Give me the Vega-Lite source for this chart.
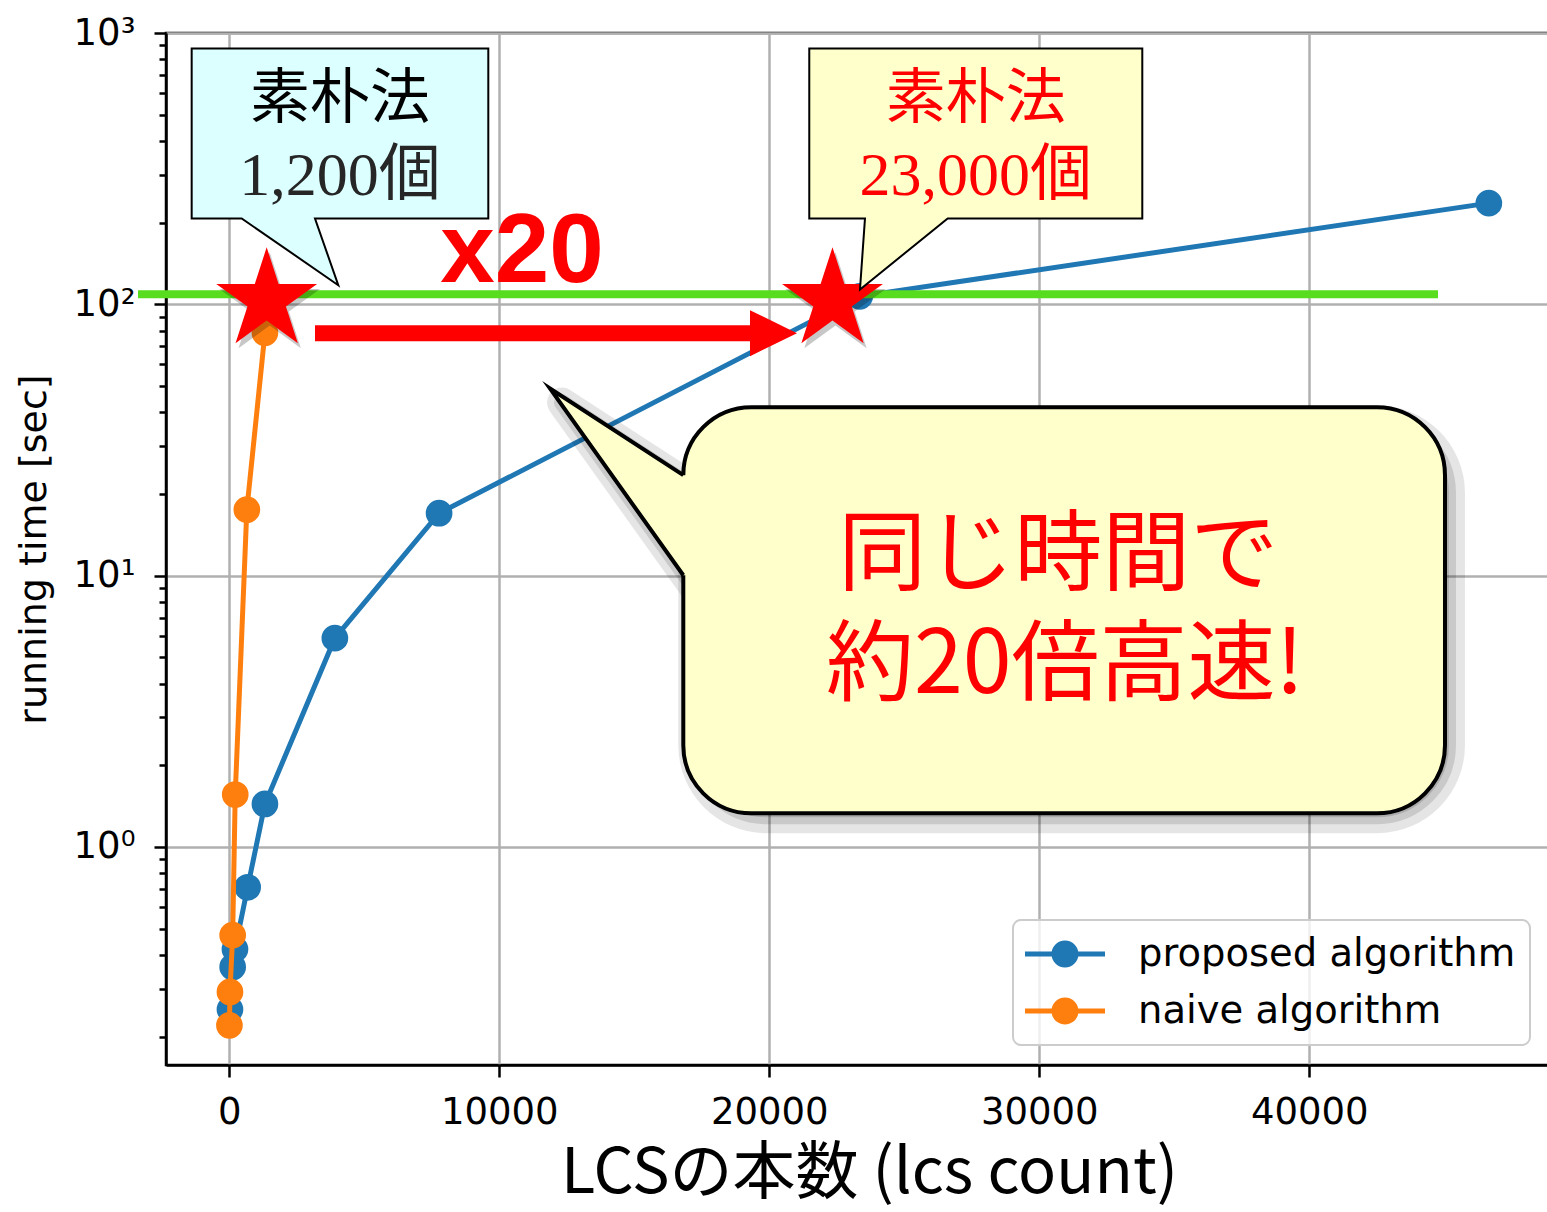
{
  "$schema": "https://vega.github.io/schema/vega-lite/v6.json",
  "width": 1406,
  "height": 1032,
  "autosize": {"type": "none"},
  "padding": {"left": 166, "top": 33, "right": 0, "bottom": 147},
  "background": "white",
  "config": {
    "view": {"stroke": "black", "strokeWidth": 2.5},
    "font": "DejaVu Sans",
    "axis": {
      "domainColor": "black", "domainWidth": 2.5,
      "tickColor": "black", "tickWidth": 2.5,
      "gridColor": "#b0b0b0", "gridWidth": 2.5,
      "labelColor": "black", "titleColor": "black",
      "labelFont": "DejaVu Sans", "labelFontSize": 37
    }
  },
  "datasets": {
    "proposed": [
      {"x": 25, "y": 0.252, "algo": "proposed algorithm"},
      {"x": 125, "y": 0.361, "algo": "proposed algorithm"},
      {"x": 210, "y": 0.42, "algo": "proposed algorithm"},
      {"x": 680, "y": 0.71, "algo": "proposed algorithm"},
      {"x": 1320, "y": 1.44, "algo": "proposed algorithm"},
      {"x": 3910, "y": 5.88, "algo": "proposed algorithm"},
      {"x": 7770, "y": 16.98, "algo": "proposed algorithm"},
      {"x": 23350, "y": 107, "algo": "proposed algorithm"},
      {"x": 46650, "y": 236, "algo": "proposed algorithm"}
    ],
    "naive": [
      {"x": 5, "y": 0.22, "algo": "naive algorithm"},
      {"x": 25, "y": 0.292, "algo": "naive algorithm"},
      {"x": 125, "y": 0.473, "algo": "naive algorithm"},
      {"x": 220, "y": 1.56, "algo": "naive algorithm"},
      {"x": 650, "y": 17.5, "algo": "naive algorithm"},
      {"x": 1320, "y": 78.5, "algo": "naive algorithm"}
    ],
    "green": [{"x": -3381, "x2": 44767, "y": 108.9}],
    "shaft": [{"x": 3174, "x2": 19400, "y": 78.26}],
    "arrowhead": [
      {"i": 0, "x": 19285, "y": 95.1},
      {"i": 1, "x": 21026, "y": 78.26},
      {"i": 2, "x": 19285, "y": 64.4}
    ],
    "stars": [{"x": 1385, "y": 103.5}, {"x": 22341, "y": 103.5}],
    "cyan": [
      {"i": 0, "x": 4100, "y": 876.9},
      {"i": 1, "x": 9593, "y": 876.9},
      {"i": 2, "x": 9593, "y": 207.2},
      {"i": 3, "x": 3174, "y": 207.2},
      {"i": 4, "x": 4037, "y": 117.6},
      {"i": 5, "x": 459, "y": 207.2},
      {"i": 6, "x": -1393, "y": 207.2},
      {"i": 7, "x": -1393, "y": 876.9},
      {"i": 8, "x": 4100, "y": 876.9}
    ],
    "yellow": [
      {"i": 0, "x": 27600, "y": 876.9},
      {"i": 1, "x": 33815, "y": 876.9},
      {"i": 2, "x": 33815, "y": 207.2},
      {"i": 3, "x": 26607, "y": 207.2},
      {"i": 4, "x": 23359, "y": 113.4},
      {"i": 5, "x": 23544, "y": 207.2},
      {"i": 6, "x": 21481, "y": 207.2},
      {"i": 7, "x": 21481, "y": 876.9},
      {"i": 8, "x": 27600, "y": 876.9}
    ],
    "bigbox": [{"x": 16815, "x2": 45026, "y": 41.76, "y2": 1.331}],
    "ptrshadow": [
      {"i": 0, "x": 16815, "y": 23.45},
      {"i": 1, "x": 11878, "y": 48.94},
      {"i": 2, "x": 16815, "y": 10.03},
      {"i": 3, "x": 16815, "y": 23.45}
    ],
    "ptrfill": [
      {"i": 0, "x": 17148, "y": 23.45},
      {"i": 1, "x": 16815, "y": 23.45},
      {"i": 2, "x": 11878, "y": 48.94},
      {"i": 3, "x": 16815, "y": 10.03},
      {"i": 4, "x": 17148, "y": 10.03}
    ],
    "ptrline": [
      {"i": 0, "x": 16815, "y": 23.45},
      {"i": 1, "x": 11878, "y": 48.94},
      {"i": 2, "x": 16815, "y": 10.03}
    ]
  },
  "encoding": {
    "x": {
      "field": "x", "type": "quantitative",
      "scale": {"domain": [-2344, 49730], "nice": false, "zero": false},
      "axis": {
        "values": [0, 10000, 20000, 30000, 40000], "format": "d",
        "tickSize": 12, "labelPadding": 17, "labelFlush": false, "labelOverlap": false,
        "grid": true,
        "title": "LCSの本数 (lcs count)", "titleFont": "Noto Sans CJK JP",
        "titleFontSize": 63, "titleFontWeight": "normal", "titlePadding": 12
      }
    },
    "y": {
      "field": "y", "type": "quantitative",
      "scale": {"type": "log", "domain": [0.1571, 1000], "nice": false},
      "axis": {
        "values": [0.2, 0.3, 0.4, 0.5, 0.6, 0.7, 0.8, 0.9, 1, 2, 3, 4, 5, 6, 7, 8, 9, 10, 20, 30, 40, 50, 60, 70, 80, 90, 100, 200, 300, 400, 500, 600, 700, 800, 900, 1000],
        "labelExpr": "datum.value === 1 ? '10⁰' : datum.value === 10 ? '10¹' : datum.value === 100 ? '10²' : datum.value === 1000 ? '10³' : ''",
        "tickSize": {"condition": {"test": "indexof([1, 10, 100, 1000], datum.value) >= 0", "value": 12}, "value": 7},
        "gridOpacity": {"condition": {"test": "indexof([1, 10, 100, 1000], datum.value) >= 0", "value": 1}, "value": 0},
        "grid": true, "labelPadding": 19, "labelOverlap": false, "labelFlush": false,
        "title": "running time [sec]", "titleFont": "DejaVu Sans",
        "titleFontSize": 38, "titleFontWeight": "normal", "titlePadding": 20
      }
    }
  },
  "layer": [
    {
      "data": {"name": "proposed"},
      "mark": {"type": "line", "strokeWidth": 5, "point": {"filled": true, "size": 713, "opacity": 1}},
      "encoding": {
        "color": {
          "field": "algo", "type": "nominal",
          "scale": {"domain": ["proposed algorithm", "naive algorithm"], "range": ["#1f77b4", "#ff7f0e"]},
          "legend": {
            "orient": "none", "legendX": 847, "legendY": 887, "title": null,
            "symbolType": "M-1.1,-0.125L2.9,-0.125L2.9,0.125L-1.1,0.125Z M1.575,0 A0.675,0.675 0 1,1 0.225,0 A0.675,0.675 0 1,1 1.575,0Z",
            "symbolSize": 1600, "symbolStrokeWidth": 0,
            "labelFont": "DejaVu Sans", "labelFontSize": 38.5, "labelColor": "black", "labelLimit": 1000,
            "labelOffset": 71, "padding": 14, "rowPadding": 17,
            "fillColor": "rgba(255,255,255,0.8)", "strokeColor": "#cccccc", "cornerRadius": 8,
            "encode": {
              "symbols": {"update": {"fill": {"scale": "color", "field": "value"}, "opacity": {"value": 1}, "strokeWidth": {"value": 0}}},
              "legend": {"update": {"strokeWidth": {"value": 2}}}
            }
          }
        }
      }
    },
    {
      "data": {"name": "naive"},
      "mark": {"type": "line", "strokeWidth": 5, "point": {"filled": true, "size": 713, "opacity": 1}},
      "encoding": {
        "color": {"field": "algo", "type": "nominal", "scale": {"domain": ["proposed algorithm", "naive algorithm"], "range": ["#1f77b4", "#ff7f0e"]}}
      }
    },
    {
      "data": {"name": "green"},
      "mark": {"type": "rule", "color": "#58dc1e", "strokeWidth": 8, "strokeCap": "butt"},
      "encoding": {"x2": {"field": "x2"}}
    },
    {
      "data": {"name": "shaft"},
      "mark": {"type": "rule", "color": "#ff0000", "strokeWidth": 16, "strokeCap": "butt"},
      "encoding": {"x2": {"field": "x2"}}
    },
    {
      "data": {"name": "arrowhead"},
      "mark": {"type": "line", "fill": "#ff0000", "strokeWidth": 0, "interpolate": "linear"},
      "encoding": {"order": {"field": "i", "type": "quantitative"}}
    },
    {
      "data": {"name": "stars"},
      "mark": {"type": "point", "filled": true, "size": 11236, "color": "#000000", "opacity": 0.22, "strokeWidth": 0, "xOffset": 3, "yOffset": 5,
        "shape": "M0,-1L0.2245,-0.309L0.951,-0.309L0.363,0.118L0.588,0.809L0,0.382L-0.588,0.809L-0.363,0.118L-0.951,-0.309L-0.2245,-0.309Z"}
    },
    {
      "data": {"name": "stars"},
      "mark": {"type": "point", "filled": true, "size": 11236, "color": "#ff0000", "opacity": 1, "strokeWidth": 0,
        "shape": "M0,-1L0.2245,-0.309L0.951,-0.309L0.363,0.118L0.588,0.809L0,0.382L-0.588,0.809L-0.363,0.118L-0.951,-0.309L-0.2245,-0.309Z"}
    },
    {
      "data": {"name": "cyan"},
      "mark": {"type": "line", "fill": "#dcffff", "stroke": "black", "strokeWidth": 2, "strokeJoin": "miter", "interpolate": "linear"},
      "encoding": {"order": {"field": "i", "type": "quantitative"}}
    },
    {
      "data": {"name": "yellow"},
      "mark": {"type": "line", "fill": "#ffffcc", "stroke": "black", "strokeWidth": 2, "strokeJoin": "miter", "interpolate": "linear"},
      "encoding": {"order": {"field": "i", "type": "quantitative"}}
    },
    {
      "data": {"name": "bigbox"},
      "mark": {"type": "rect", "cornerRadius": 68, "fill": "black", "fillOpacity": 0.14, "stroke": "black", "strokeOpacity": 0.1, "strokeWidth": 40, "xOffset": 15, "yOffset": 18},
      "encoding": {"x2": {"field": "x2"}, "y2": {"field": "y2"}}
    },
    {
      "data": {"name": "bigbox"},
      "mark": {"type": "rect", "cornerRadius": 68, "fill": "black", "fillOpacity": 0.15, "stroke": "black", "strokeOpacity": 0.12, "strokeWidth": 22, "xOffset": 15, "yOffset": 18},
      "encoding": {"x2": {"field": "x2"}, "y2": {"field": "y2"}}
    },
    {
      "data": {"name": "bigbox"},
      "mark": {"type": "rect", "cornerRadius": 68, "fill": "black", "fillOpacity": 0.16, "stroke": "black", "strokeOpacity": 0.14, "strokeWidth": 8, "xOffset": 15, "yOffset": 18},
      "encoding": {"x2": {"field": "x2"}, "y2": {"field": "y2"}}
    },
    {
      "data": {"name": "ptrshadow"},
      "mark": {"type": "line", "fill": "black", "fillOpacity": 0.12, "stroke": "black", "strokeOpacity": 0.1, "strokeWidth": 30, "xOffset": 12, "yOffset": 14, "strokeJoin": "round"},
      "encoding": {"order": {"field": "i", "type": "quantitative"}}
    },
    {
      "data": {"name": "ptrshadow"},
      "mark": {"type": "line", "fill": "black", "fillOpacity": 0.14, "stroke": "black", "strokeOpacity": 0.12, "strokeWidth": 16, "xOffset": 12, "yOffset": 14, "strokeJoin": "round"},
      "encoding": {"order": {"field": "i", "type": "quantitative"}}
    },
    {
      "data": {"name": "bigbox"},
      "mark": {"type": "rect", "cornerRadius": 68, "fill": "#ffffcc", "stroke": "black", "strokeWidth": 4},
      "encoding": {"x2": {"field": "x2"}, "y2": {"field": "y2"}}
    },
    {
      "data": {"name": "ptrfill"},
      "mark": {"type": "line", "fill": "#ffffcc", "strokeWidth": 0, "interpolate": "linear"},
      "encoding": {"order": {"field": "i", "type": "quantitative"}}
    },
    {
      "data": {"name": "ptrline"},
      "mark": {"type": "line", "stroke": "black", "strokeWidth": 4, "strokeJoin": "miter", "strokeMiterLimit": 20, "strokeCap": "butt", "interpolate": "linear"},
      "encoding": {"order": {"field": "i", "type": "quantitative"}}
    },
    {
      "data": {"values": [{"x": 4100, "y": 485, "t": "素朴法"}]},
      "mark": {"type": "text", "font": "Noto Sans CJK JP", "fontSize": 60, "color": "black", "align": "center", "baseline": "alphabetic"},
      "encoding": {"text": {"field": "t"}}
    },
    {
      "data": {"values": [{"x": 4100, "y": 252.5, "t": "1,200個"}]},
      "mark": {"type": "text", "font": "'Liberation Serif', 'Noto Sans CJK JP'", "fontSize": 62, "color": "#262626", "align": "center", "baseline": "alphabetic"},
      "encoding": {"text": {"field": "t"}}
    },
    {
      "data": {"values": [{"x": 27648, "y": 485, "t": "素朴法"}]},
      "mark": {"type": "text", "font": "Noto Sans CJK JP", "fontSize": 60, "color": "#ff0000", "align": "center", "baseline": "alphabetic"},
      "encoding": {"text": {"field": "t"}}
    },
    {
      "data": {"values": [{"x": 27648, "y": 252.5, "t": "23,000個"}]},
      "mark": {"type": "text", "font": "'Liberation Serif', 'Noto Sans CJK JP'", "fontSize": 62, "color": "#ff0000", "align": "center", "baseline": "alphabetic"},
      "encoding": {"text": {"field": "t"}}
    },
    {
      "data": {"values": [{"x": 10841, "y": 120.6, "t": "x20"}]},
      "mark": {"type": "text", "font": "Liberation Sans", "fontSize": 98, "fontWeight": "bold", "color": "#ff0000", "align": "center", "baseline": "alphabetic"},
      "encoding": {"text": {"field": "t"}}
    },
    {
      "data": {"values": [{"x": 30700, "y": 9.376, "t": "同じ時間で"}, {"x": 30950, "y": 3.686, "t": "約20倍高速!"}]},
      "mark": {"type": "text", "font": "Noto Sans CJK JP", "fontSize": 88, "fontWeight": "normal", "color": "#ff0000", "align": "center", "baseline": "alphabetic"},
      "encoding": {"text": {"field": "t"}}
    }
  ]
}
